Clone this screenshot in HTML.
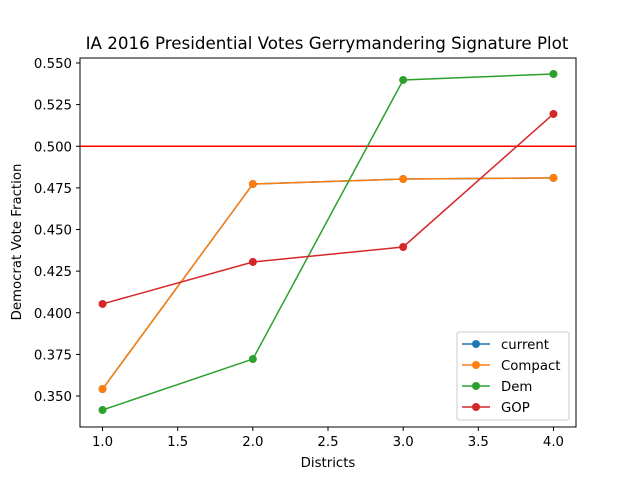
<!DOCTYPE html>
<html><head><meta charset="utf-8"><style>body{margin:0;background:#fff}svg{display:block;font-family:"DejaVu Sans","Liberation Sans",sans-serif}</style></head>
<body>
<svg id="c" width="640" height="480"></svg>
<script>
const districts=[1,2,3,4];
const current=[0.3542,0.4773,0.4803,0.4810];
const compact=[0.3542,0.4773,0.4803,0.4810];
const dem=[0.3416,0.3722,0.5398,0.5434];
const gop=[0.4053,0.4305,0.4395,0.5194];
const xTicks=[1.0,1.5,2.0,2.5,3.0,3.5,4.0];
const yTicks=[0.350,0.375,0.400,0.425,0.450,0.475,0.500,0.525,0.550];
const L=80,R=576,T=58,B=427,x0=0.85,x1=4.15,y0=0.3314,y1=0.553;
const X=v=>L+(v-x0)/(x1-x0)*(R-L), Y=v=>B-(v-y0)/(y1-y0)*(B-T);
const s=document.getElementById('c');const NS='http://www.w3.org/2000/svg';
function el(t,a,txt){const e=document.createElementNS(NS,t);for(const k in a)e.setAttribute(k,a[k]);if(txt!=null)e.textContent=txt;s.appendChild(e);return e;}
let e;
e=el('text',{x:327,y:49,'text-anchor':'middle','font-size':16.7},'IA 2016 Presidential Votes Gerrymandering Signature Plot');


xTicks.forEach(v=>{el('line',{x1:X(v),x2:X(v),y1:B,y2:B+4,stroke:'#000'});
e=el('text',{x:X(v),y:B+19,'text-anchor':'middle','font-size':13.3},v.toFixed(1));

});
yTicks.forEach(v=>{el('line',{x1:L-4,x2:L,y1:Y(v),y2:Y(v),stroke:'#000'});
e=el('text',{x:L-8,y:Y(v)+5,'text-anchor':'end','font-size':13.3},v.toFixed(3));

});
e=el('text',{x:328,y:467,'text-anchor':'middle','font-size':13.3},'Districts');


e=el('text',{x:21,y:242,'text-anchor':'middle','font-size':13.3,transform:'rotate(-90 21 242)'},'Democrat Vote Fraction');


e=el('line',{x1:L,x2:R,y1:Y(0.5),y2:Y(0.5),stroke:'#ff0000','stroke-width':1.5});


const series=[['current',current,'#1f77b4'],['Compact',compact,'#ff7f0e'],['Dem',dem,'#2ca02c'],['GOP',gop,'#d62728']];
series.forEach(([n,d,c])=>{
e=el('polyline',{points:d.map((v,i)=>X(districts[i])+','+Y(v)).join(' '),fill:'none',stroke:c,'stroke-width':1.5});


d.forEach((v,i)=>{e=el('circle',{cx:X(districts[i]),cy:Y(v),r:4,fill:c});

});});
e=el('rect',{x:L,y:T,width:R-L,height:B-T,fill:'none',stroke:'#000','stroke-width':1});


e=el('rect',{x:457,y:332,width:112,height:88,fill:'#fff',stroke:'#ccc',rx:2});


series.forEach(([n,d,c],i)=>{const y=344+i*21;
el('line',{x1:462,x2:490,y1:y,y2:y,stroke:c,'stroke-width':1.5});
el('circle',{cx:476,cy:y,r:4,fill:c});
e=el('text',{x:501,y:y+5,'font-size':13.3},n);

});
</script>
</body></html>
